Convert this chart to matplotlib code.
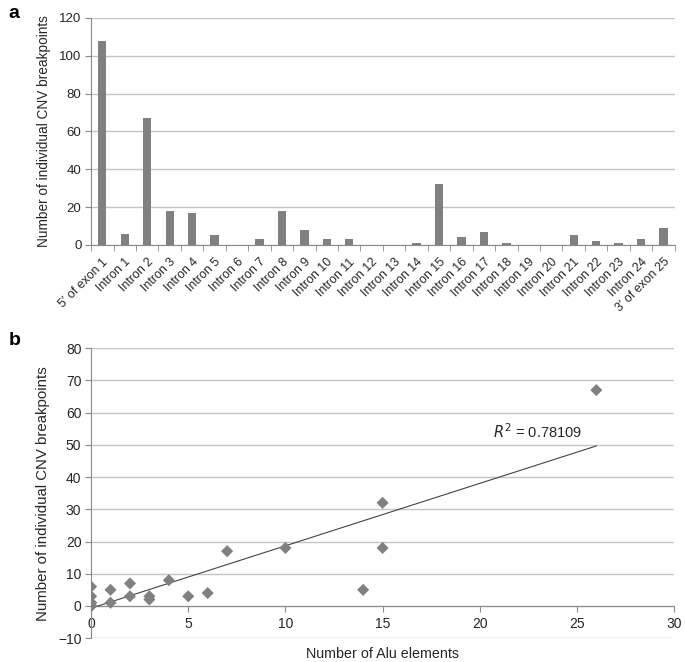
import numpy as np
import matplotlib
matplotlib.use("Agg")
import matplotlib.pyplot as plt

plt.rcParams['font.family'] = ['Liberation Sans', 'DejaVu Sans']

# Panel a data
categories = ["5′ of exon 1"] + [f"Intron {i}" for i in range(1, 25)] + ["3′ of exon 25"]
breakpoints = [108, 6, 67, 18, 17, 5, 0, 3, 18, 8, 3, 3, 0, 0, 1, 32, 4, 7, 1, 0, 0, 5, 2, 1, 3, 9]

# Panel b data (introns 1-24)
alu_counts = [0, 26, 10, 7, 1, 0, 3, 15, 4, 5, 2, 0, 0, 1, 15, 6, 2, 0, 0, 0, 14, 3, 0, 0]
intron_breakpoints = [6, 67, 18, 17, 5, 0, 3, 18, 8, 3, 3, 0, 0, 1, 32, 4, 7, 1, 0, 0, 5, 2, 1, 3]
r2_label = "$R^2$ = 0.78109"

bar_color = "#808080"
grid_color = "#c4c4c4"
spine_color = "#8a8a8a"
text_color = "#262626"

fig = plt.figure(figsize=(6.85, 6.62), dpi=100)

# ---------- Panel a ----------
axa = fig.add_axes([0.133, 0.630, 0.852, 0.343])
x = np.arange(len(categories))
axa.bar(x, breakpoints, width=0.37, color=bar_color, zorder=3)
axa.set_xlim(-0.5, len(categories) - 0.5)
axa.set_ylim(0, 120)
axa.set_yticks(np.arange(0, 121, 20))
axa.yaxis.grid(True, color=grid_color, linewidth=1.0, zorder=0)
axa.set_axisbelow(True)
for s in ['top', 'right']:
    axa.spines[s].set_visible(False)
for s in ['left', 'bottom']:
    axa.spines[s].set_color(spine_color)
axa.set_xticks(x)
axa.set_xticklabels(categories, rotation=45, ha='right', rotation_mode='anchor',
                    fontsize=8.9, color=text_color)
axa.set_xticks(np.arange(-0.5, len(categories), 1), minor=True)
axa.tick_params(axis='x', which='major', length=0, pad=8)
axa.tick_params(axis='x', which='minor', length=4, color=spine_color, direction='out')
axa.tick_params(axis='y', length=4, color=spine_color, labelsize=9.5, labelcolor=text_color, pad=3)
axa.set_ylabel("Number of individual CNV breakpoints", fontsize=9.8, color=text_color, labelpad=6)

# ---------- Panel b ----------
axb = fig.add_axes([0.133, 0.036, 0.851, 0.438])
axb.scatter(alu_counts, intron_breakpoints, marker='D', s=38, color=bar_color,
            edgecolors='none', zorder=4)
xa = np.array(alu_counts, dtype=float)
ya = np.array(intron_breakpoints, dtype=float)
slope, intercept = np.polyfit(xa, ya, 1)
xl = np.array([xa.min(), xa.max()])
axb.plot(xl, slope * xl + intercept, color="#444444", linewidth=0.8, zorder=3)
axb.text(20.7, 54, r2_label, fontsize=10.5, color=text_color, ha='left', va='center')

axb.set_xlim(0, 30)
axb.set_ylim(-10, 80)
axb.set_yticks(np.arange(-10, 81, 10))
axb.set_xticks(np.arange(0, 31, 5))
axb.yaxis.grid(True, color=grid_color, linewidth=1.0, zorder=0)
axb.set_axisbelow(True)
for s in ['top', 'right']:
    axb.spines[s].set_visible(False)
axb.spines['left'].set_color(spine_color)
axb.spines['bottom'].set_color(spine_color)
axb.spines['bottom'].set_position(('data', 0))
axb.tick_params(axis='x', length=4, color=spine_color, labelsize=10, labelcolor=text_color, pad=4)
axb.tick_params(axis='y', length=4, color=spine_color, labelsize=10, labelcolor=text_color, pad=3)
axb.set_ylabel("Number of individual CNV breakpoints", fontsize=10.8, color=text_color, labelpad=6)
axb.set_xlabel("Number of Alu elements", fontsize=10.3, color=text_color, labelpad=0)
axb.xaxis.set_label_coords(0.5, -0.03)

# Panel letters
fig.text(0.012, 0.993, "a", fontsize=14, fontweight='bold', va='top', ha='left')
fig.text(0.012, 0.498, "b", fontsize=14, fontweight='bold', va='top', ha='left')

fig.savefig("out.png", dpi=100)
